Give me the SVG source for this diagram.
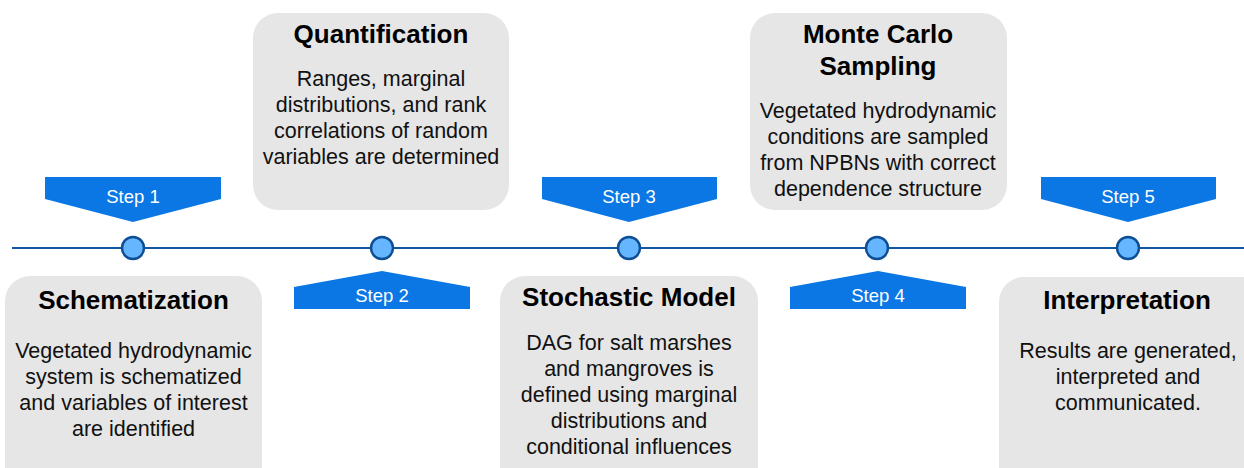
<svg xmlns="http://www.w3.org/2000/svg" width="1244" height="468" viewBox="0 0 1244 468">
<style>
.box{fill:#e6e6e6}
.banner{fill:#0a77e4}
.step{font-family:"Liberation Sans",Arial,sans-serif;font-size:18.5px;fill:#ffffff;text-anchor:middle}
.title{font-family:"Liberation Sans",Arial,sans-serif;font-size:26px;font-weight:bold;fill:#000;text-anchor:middle}
.body{font-family:"Liberation Sans",Arial,sans-serif;font-size:21.5px;fill:#111;text-anchor:middle}
.dot{fill:#66b6ff;stroke:#0d4e94;stroke-width:2.5}
</style>
<rect width="1244" height="468" fill="#ffffff"/>
<g id="connectors">
<line x1="12" y1="248" x2="1244" y2="248" stroke="#1257a4" stroke-width="2.2"/>
</g>
<g id="step1">
<polygon class="banner" points="45,177 221,177 221,199 133,222 45,199"/>
<text class="step" x="133" y="203">Step 1</text>
<circle class="dot" cx="133" cy="248" r="11"/>
<rect class="box" x="5" y="276" width="257" height="220" rx="25"/>
<text class="title" x="133.5" y="309">Schematization</text>
<text class="body" x="133.5" y="358">Vegetated hydrodynamic</text>
<text class="body" x="133.5" y="384">system is schematized</text>
<text class="body" x="133.5" y="410">and variables of interest</text>
<text class="body" x="133.5" y="436">are identified</text>
</g>
<g id="step2">
<polygon class="banner" points="382,271 470,287 470,309 294,309 294,287"/>
<text class="step" x="382" y="302">Step 2</text>
<circle class="dot" cx="382" cy="248" r="11"/>
<rect class="box" x="253" y="13" width="256" height="197" rx="25"/>
<text class="title" x="381" y="43">Quantification</text>
<text class="body" x="381" y="86">Ranges, marginal</text>
<text class="body" x="381" y="112">distributions, and rank</text>
<text class="body" x="381" y="138">correlations of random</text>
<text class="body" x="381" y="164">variables are determined</text>
</g>
<g id="step3">
<polygon class="banner" points="542,177 717,177 717,199 629,222 542,199"/>
<text class="step" x="629" y="203">Step 3</text>
<circle class="dot" cx="629" cy="248" r="11"/>
<rect class="box" x="500" y="276" width="258" height="220" rx="25"/>
<text class="title" x="629" y="306">Stochastic Model</text>
<text class="body" x="629" y="350">DAG for salt marshes</text>
<text class="body" x="629" y="376">and mangroves is</text>
<text class="body" x="629" y="402">defined using marginal</text>
<text class="body" x="629" y="428">distributions and</text>
<text class="body" x="629" y="454">conditional influences</text>
</g>
<g id="step4">
<polygon class="banner" points="878,271 966,287 966,309 790,309 790,287"/>
<text class="step" x="878" y="302">Step 4</text>
<circle class="dot" cx="877" cy="248" r="11"/>
<rect class="box" x="750" y="13" width="257" height="197" rx="25"/>
<text class="title" x="878" y="43">Monte Carlo</text>
<text class="title" x="878" y="75">Sampling</text>
<text class="body" x="878" y="118">Vegetated hydrodynamic</text>
<text class="body" x="878" y="144">conditions are sampled</text>
<text class="body" x="878" y="170">from NPBNs with correct</text>
<text class="body" x="878" y="196">dependence structure</text>
</g>
<g id="step5">
<polygon class="banner" points="1041,177 1216,177 1216,199 1128,222 1041,199"/>
<text class="step" x="1128" y="203">Step 5</text>
<circle class="dot" cx="1128" cy="248" r="11"/>
<rect class="box" x="999" y="277" width="270" height="220" rx="25"/>
<text class="title" x="1127" y="309">Interpretation</text>
<text class="body" x="1128" y="358">Results are generated,</text>
<text class="body" x="1128" y="384">interpreted and</text>
<text class="body" x="1128" y="410">communicated.</text>
</g>
</svg>
